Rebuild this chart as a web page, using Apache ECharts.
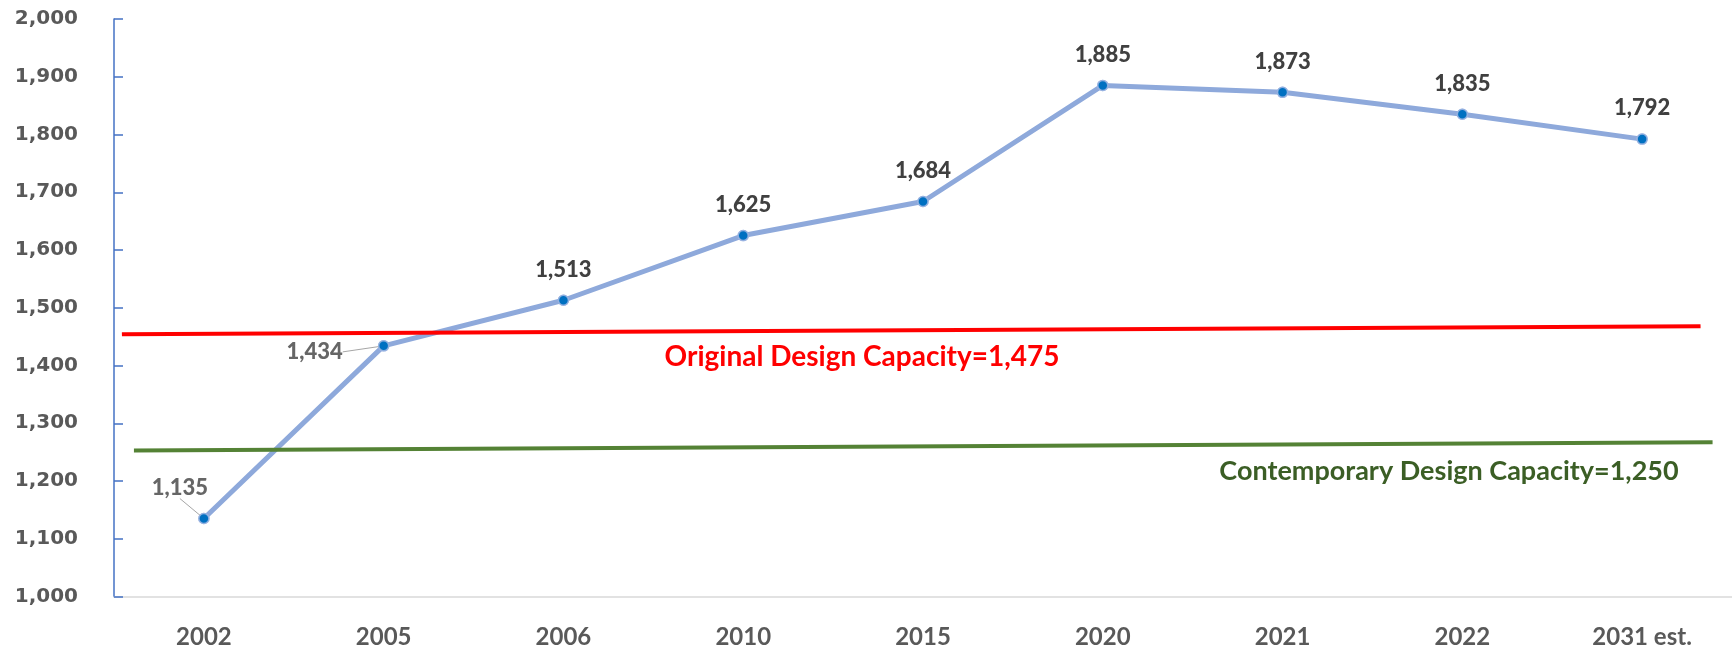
<!DOCTYPE html>
<html>
<head>
<meta charset="utf-8">
<script src="https://cdn.jsdelivr.net/npm/echarts@6/dist/echarts.min.js"></script>
<style>
html,body{margin:0;padding:0;background:#fff;}
#chart{width:1732px;height:650px;}
</style>
</head>
<body>
<div id="chart"></div>
<script>
// Data
const categories = ['2002', '2005', '2006', '2010', '2015', '2020', '2021', '2022', '2031 est.'];
const enrollment = [1135, 1434, 1513, 1625, 1684, 1885, 1873, 1835, 1792];
const yTicks = { min: 1000, max: 2000, interval: 100 };
// Capacity reference lines as drawn (slightly tilted in the picture); x in category-index units
const originalCapacityLine = [[-0.456, 1454], [8.325, 1468]];
const contemporaryCapacityLine = [[-0.389, 1253], [8.392, 1267]];
const originalCapacityText = 'Original Design Capacity=1,475';
const contemporaryCapacityText = 'Contemporary Design Capacity=1,250';

const fmt = v => Number(v).toLocaleString('en-US');

// labels that sit beside their points with a leader line: offset of label centre from the point
const sideLabels = { 0: [-24, -31], 1: [-69, 6] };

const labelFont = { fontFamily: 'Lato', fontWeight: 900, fontSize: 22, color: '#404040' };

const chart = echarts.init(document.getElementById('chart'), null, { renderer: 'canvas' });

const sideLabelStyle = Object.assign({
  show: true, position: 'top',
  formatter: p => '{b|' + fmt(p.value) + '}',
  rich: { b: Object.assign({}, labelFont) }
}, labelFont);

const mainData = enrollment.map((v, i) => sideLabels[i] ? { value: v, label: { show: false } } : v);
const sideData = enrollment.map((v, i) => sideLabels[i]
  ? { value: v, label: sideLabelStyle }
  : { value: v, label: { show: false } });

chart.setOption({
  animation: false,
  backgroundColor: '#ffffff',
  grid: { left: 114, top: 19, width: 1625, height: 577.5, containLabel: false },
  xAxis: [
    {
      type: 'category',
      data: categories,
      boundaryGap: true,
      axisLine: { show: true, onZero: false, lineStyle: { color: '#D9D9D9', width: 1.5 } },
      axisTick: { show: false },
      axisLabel: { fontFamily: 'Lato', fontWeight: 'bold', fontSize: 24, color: '#595959', margin: 29 },
      splitLine: { show: false }
    },
    { type: 'value', min: -0.5, max: 8.5, show: false, gridIndex: 0 }
  ],
  yAxis: {
    type: 'value',
    min: yTicks.min, max: yTicks.max, interval: yTicks.interval,
    axisLine: { show: true, onZero: false, lineStyle: { color: '#4472C4', width: 1.5 } },
    axisTick: { show: true, inside: true, length: 9, lineStyle: { color: '#4472C4', width: 1.5 } },
    axisLabel: { fontFamily: 'DejaVu Sans', fontWeight: 'bold', fontSize: 20, color: '#595959', margin: 36, formatter: fmt },
    splitLine: { show: false }
  },
  series: [
    {
      type: 'line',
      data: mainData,
      z: 2,
      symbol: 'circle',
      symbolSize: 10,
      lineStyle: { color: '#8EA9DB', width: 5 },
      itemStyle: { color: '#0070C0', borderColor: '#9DB5E2', borderWidth: 1.5 },
      label: Object.assign({ show: true, position: 'top', distance: 14, formatter: p => fmt(p.value) }, labelFont),
      emphasis: { disabled: true }
    },
    {
      type: 'scatter',
      data: sideData,
      z: 4,
      symbol: 'circle',
      symbolSize: 10,
      itemStyle: { color: '#0070C0', borderColor: '#9DB5E2', borderWidth: 1.5 },
      label: sideLabelStyle,
      labelLine: { show: true, lineStyle: { color: '#A6A6A6', width: 1 } },
      labelLayout: p => {
        const s = sideLabels[p.dataIndex];
        if (!s) return {};
        return {
          x: p.rect.x + p.rect.width / 2 + s[0],
          y: p.rect.y + p.rect.height / 2 + s[1],
          align: 'center', verticalAlign: 'middle'
        };
      },
      emphasis: { disabled: true }
    },
    {
      type: 'line',
      xAxisIndex: 1,
      data: originalCapacityLine,
      z: 3,
      symbol: 'none',
      silent: true,
      lineStyle: { color: '#FF0000', width: 4 }
    },
    {
      type: 'line',
      xAxisIndex: 1,
      data: contemporaryCapacityLine,
      z: 3,
      symbol: 'none',
      silent: true,
      lineStyle: { color: '#548235', width: 4 }
    }
  ],
  graphic: [
    {
      type: 'text', x: 862, y: 357,
      style: { text: originalCapacityText, fill: '#FF0000', font: 'bold 28px Lato', align: 'center', verticalAlign: 'middle' }
    },
    {
      type: 'text', x: 1449, y: 471,
      style: { text: contemporaryCapacityText, fill: '#3B5E25', font: 'bold 27px Lato', align: 'center', verticalAlign: 'middle' }
    }
  ]
});
</script>
</body>
</html>
